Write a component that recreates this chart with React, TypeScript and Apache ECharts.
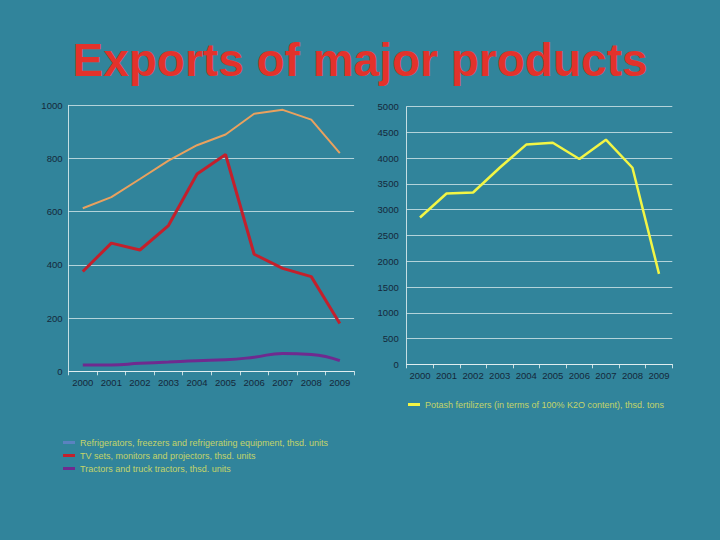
import React, { useEffect, useRef } from "react";
import * as echarts from "echarts";

const years = ["2000", "2001", "2002", "2003", "2004", "2005", "2006", "2007", "2008", "2009"];
const refrigerators = [613, 655, 723, 792, 850, 890, 968, 983, 946, 820];
const tvSets = [375, 482, 456, 548, 742, 815, 440, 387, 356, 180];
const tractors = [24, 24, 30, 35, 40, 43, 53, 67, 63, 40];
const potash = [2850, 3315, 3335, 3815, 4265, 4300, 3985, 4360, 3815, 1755];

const leftNames = [
  "Refrigerators, freezers and refrigerating equipment, thsd. units",
  "TV sets, monitors and projectors, thsd. units",
  "Tractors and truck tractors, thsd. units",
];
const rightName = "Potash fertilizers (in terms of 100% K2O content), thsd. tons";
const titleText = "Exports of major products";

export default function App() {
  const ref = useRef<HTMLDivElement>(null);
  useEffect(() => {
    document.body.style.margin = "0";
    const chart = echarts.init(ref.current!, undefined, { renderer: "svg" });
    const tickFont = { fontFamily: "Liberation Sans", fontSize: 9.5, color: "#15283a", formatter: (v: any) => String(v) };
    const gridLine = { lineStyle: { color: "rgba(235,245,245,0.7)", width: 1 } };
    const axisLine = { lineStyle: { color: "rgba(235,245,245,0.8)", width: 1 } };
    const legendText = { color: "#c4d46a", fontSize: 9, fontFamily: "Liberation Sans" };
    chart.setOption({
      animation: false,
      backgroundColor: "#31849b",
      title: {
        text: titleText,
        left: "center",
        top: 32,
        textStyle: {
          color: "#e3322b",
          fontSize: 46,
          fontWeight: "bold",
          fontFamily: "Liberation Sans",
        },
      },
      grid: [
        { left: 68.5, top: 105.3, width: 285.6, height: 266, containLabel: false },
        { left: 406.7, top: 106.7, width: 265.6, height: 257.6, containLabel: false },
      ],
      legend: [
        {
          data: leftNames,
          orient: "vertical",
          left: 58,
          top: 433,
          itemWidth: 12,
          itemHeight: 3,
          itemGap: 4,
          icon: "rect",
          textStyle: legendText,
        },
        {
          data: [rightName],
          orient: "vertical",
          left: 403,
          top: 395,
          itemWidth: 12,
          itemHeight: 3,
          icon: "rect",
          textStyle: legendText,
        },
      ],
      xAxis: [0, 1].map((i) => ({
        type: "category",
        gridIndex: i,
        data: years,
        boundaryGap: true,
        axisLine,
        axisTick: { show: true, length: 4, lineStyle: { color: "rgba(235,245,245,0.8)" } },
        axisLabel: { ...tickFont, margin: 6, interval: 0 },
        splitLine: { show: false },
      })),
      yAxis: [
        {
          type: "value",
          gridIndex: 0,
          min: 0,
          max: 1000,
          interval: 200,
          axisLine: { show: true, ...axisLine },
          axisTick: { show: false },
          axisLabel: { ...tickFont, margin: 6 },
          splitLine: gridLine,
        },
        {
          type: "value",
          gridIndex: 1,
          min: 0,
          max: 5000,
          interval: 500,
          axisLine: { show: true, ...axisLine },
          axisTick: { show: false },
          axisLabel: { ...tickFont, margin: 8 },
          splitLine: gridLine,
        },
      ],
      series: [
        {
          name: leftNames[0],
          type: "line",
          xAxisIndex: 0,
          yAxisIndex: 0,
          data: refrigerators,
          showSymbol: false,
          lineStyle: { color: "#e9a15e", width: 2 },
          itemStyle: { color: "#5a82c0" },
          z: 3,
        },
        {
          name: leftNames[1],
          type: "line",
          xAxisIndex: 0,
          yAxisIndex: 0,
          data: tvSets,
          showSymbol: false,
          lineStyle: { color: "#c3202c", width: 3 },
          itemStyle: { color: "#c3202c" },
        },
        {
          name: leftNames[2],
          type: "line",
          xAxisIndex: 0,
          yAxisIndex: 0,
          data: tractors,
          smooth: true,
          showSymbol: false,
          lineStyle: { color: "#6f2a8f", width: 3 },
          itemStyle: { color: "#6f2a8f" },
        },
        {
          name: rightName,
          type: "line",
          xAxisIndex: 1,
          yAxisIndex: 1,
          data: potash,
          showSymbol: false,
          lineStyle: { color: "#f2f545", width: 2.5 },
          itemStyle: { color: "#f2f545" },
        },
      ],
    });
    return () => chart.dispose();
  }, []);
  return <div ref={ref} style={{ width: 720, height: 540 }} />;
}
